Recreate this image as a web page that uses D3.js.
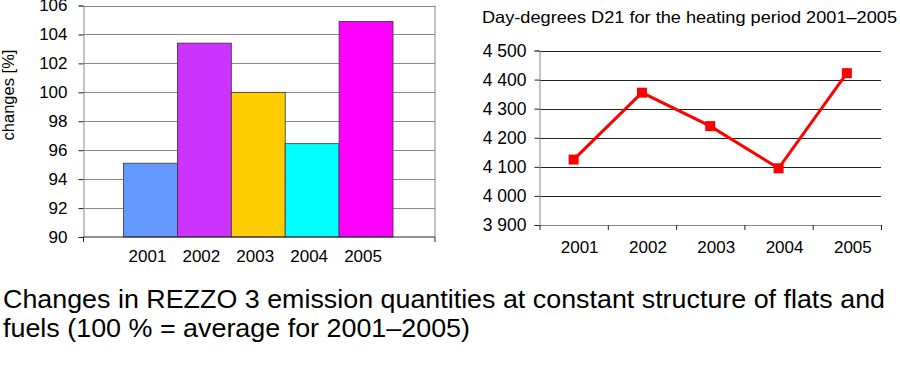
<!DOCTYPE html>
<html>
<head>
<meta charset="utf-8">
<script src="https://cdn.jsdelivr.net/npm/d3@7"></script>
<style>
  body { margin: 0; background: #fff; }
  svg { font-family: "Liberation Sans", Arial, sans-serif; }
</style>
</head>
<body>
<div id="chart"></div>
<script>
// data
var years = ['2001', '2002', '2003', '2004', '2005'];
var changes = [95.1, 103.4, 100.0, 96.45, 104.9];
var barColors = ['#6699ff', '#cc33ff', '#ffcc00', '#00ffff', '#ff00ff'];
var changeTicks = [90, 92, 94, 96, 98, 100, 102, 104, 106];
var dayDegrees = [4125, 4355, 4240, 4095, 4422];
var ddTicks = [3900, 4000, 4100, 4200, 4300, 4400, 4500];

var svg = d3.select('#chart').append('svg')
  .attr('width', 900)
  .attr('height', 388);

// ---- left: bar chart ----
var L = { left: 83.5, right: 435, top: 5.5, bottom: 237 };
var y1 = d3.scaleLinear().domain([90, 106]).range([L.bottom, L.top]);
var x1 = d3.scaleBand().domain(years).range([123.5, 393]).padding(0);

var g1 = svg.append('g');

g1.selectAll('line.grid')
  .data(changeTicks.slice(1))
  .enter().append('line')
  .attr('x1', L.left).attr('x2', L.right)
  .attr('y1', function(d) { return Math.round(y1(d)) + 0.5; })
  .attr('y2', function(d) { return Math.round(y1(d)) + 0.5; })
  .attr('stroke', '#888').attr('stroke-width', 1);

// right border
g1.append('line')
  .attr('x1', L.right).attr('x2', L.right)
  .attr('y1', L.top).attr('y2', L.bottom)
  .attr('stroke', '#888');

g1.selectAll('rect.bar')
  .data(years)
  .enter().append('rect')
  .attr('x', function(d) { return x1(d); })
  .attr('y', function(d, i) { return y1(changes[i]); })
  .attr('width', x1.bandwidth())
  .attr('height', function(d, i) { return L.bottom - y1(changes[i]); })
  .attr('fill', function(d, i) { return barColors[i]; })
  .attr('stroke', '#333').attr('stroke-width', 0.8);

var ax1 = d3.axisLeft(y1).tickValues(changeTicks).tickSize(5).tickPadding(11);
g1.append('g')
  .attr('transform', 'translate(' + L.left + ',0)')
  .call(ax1)
  .call(function(g) {
    g.select('.domain').attr('stroke', '#888');
    g.selectAll('.tick line').attr('stroke', '#222');
    g.selectAll('.tick text').attr('font-size', 17).attr('fill', '#000').attr('font-family', null);
  });

// bottom axis
g1.append('line')
  .attr('x1', L.left).attr('x2', L.right)
  .attr('y1', L.bottom).attr('y2', L.bottom)
  .attr('stroke', '#222');
[L.left, L.right].forEach(function(x) {
  g1.append('line').attr('x1', x).attr('x2', x)
    .attr('y1', L.bottom).attr('y2', L.bottom + 5).attr('stroke', '#222');
});
g1.selectAll('text.xl')
  .data(years)
  .enter().append('text')
  .attr('x', function(d) { return x1(d) + x1.bandwidth() / 2 - 3; })
  .attr('y', 262)
  .attr('text-anchor', 'middle')
  .attr('font-size', 17)
  .text(function(d) { return d; });

g1.append('text')
  .attr('transform', 'translate(14,95) rotate(-90)')
  .attr('text-anchor', 'middle')
  .attr('font-size', 16.5)
  .text('changes [%]');

// ---- right: line chart ----
var R = { left: 539.5, right: 881, top: 50.5, bottom: 225 };
var y2 = d3.scaleLinear().domain([3900, 4500]).range([R.bottom, R.top]);
var x2 = d3.scaleBand().domain(years).range([R.left, R.right]).padding(0);

var g2 = svg.append('g');

g2.append('text')
  .attr('x', 482).attr('y', 23)
  .attr('font-size', 16.5)
  .attr('textLength', 415)
  .attr('lengthAdjust', 'spacingAndGlyphs')
  .text('Day-degrees D21 for the heating period 2001\u20132005');

g2.selectAll('line.grid')
  .data(ddTicks.slice(1))
  .enter().append('line')
  .attr('x1', R.left).attr('x2', R.right)
  .attr('y1', function(d) { return Math.round(y2(d)) + 0.5; })
  .attr('y2', function(d) { return Math.round(y2(d)) + 0.5; })
  .attr('stroke', '#222').attr('stroke-width', 1);

var fmt = function(d) { return d3.format(',')(d).replace(',', ' '); };
var ax2 = d3.axisLeft(y2).tickValues(ddTicks).tickSize(5).tickPadding(8).tickFormat(fmt);
g2.append('g')
  .attr('transform', 'translate(' + R.left + ',0)')
  .call(ax2)
  .call(function(g) {
    g.select('.domain').attr('stroke', '#888');
    g.selectAll('.tick line').attr('stroke', '#222');
    g.selectAll('.tick text').attr('font-size', 17.5).attr('fill', '#000').attr('font-family', null);
  });

g2.append('g')
  .attr('transform', 'translate(0,' + R.bottom + ')')
  .call(d3.axisBottom(d3.scaleLinear().domain([0, 5]).range([R.left, R.right]))
    .ticks(5).tickSize(5).tickSizeOuter(0).tickFormat(function() { return ''; }))
  .call(function(g) {
    g.select('.domain').attr('stroke', '#888');
    g.selectAll('.tick line').attr('stroke', '#222');
  });

g2.selectAll('text.xl')
  .data(years)
  .enter().append('text')
  .attr('x', function(d) { return x2(d) + x2.bandwidth() / 2 + 6; })
  .attr('y', 253)
  .attr('text-anchor', 'middle')
  .attr('font-size', 17)
  .text(function(d) { return d; });

var line = d3.line()
  .x(function(d, i) { return x2(years[i]) + x2.bandwidth() / 2; })
  .y(function(d) { return y2(d); });

g2.append('path')
  .datum(dayDegrees)
  .attr('d', line)
  .attr('fill', 'none')
  .attr('stroke', '#ff0000')
  .attr('stroke-width', 3);

g2.selectAll('rect.pt')
  .data(dayDegrees)
  .enter().append('rect')
  .attr('x', function(d, i) { return x2(years[i]) + x2.bandwidth() / 2 - 5; })
  .attr('y', function(d) { return y2(d) - 5; })
  .attr('width', 10).attr('height', 10)
  .attr('fill', '#ff0000');

// ---- caption ----
svg.append('text')
  .attr('x', 3).attr('y', 308)
  .attr('font-size', 26)
  .attr('textLength', 882)
  .attr('lengthAdjust', 'spacingAndGlyphs')
  .text('Changes in REZZO 3 emission quantities at constant structure of flats and');
svg.append('text')
  .attr('x', 3).attr('y', 337)
  .attr('font-size', 26)
  .attr('textLength', 467)
  .attr('lengthAdjust', 'spacingAndGlyphs')
  .text('fuels (100 % = average for 2001\u20132005)');
</script>
</body>
</html>
